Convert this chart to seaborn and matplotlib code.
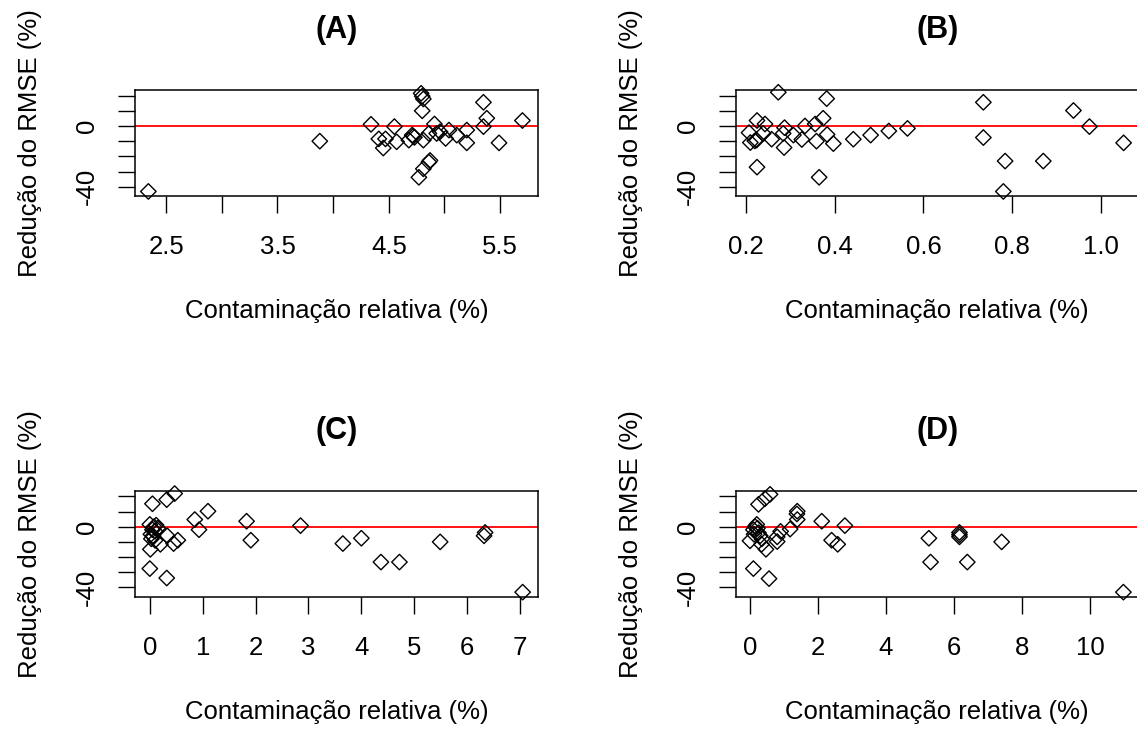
import numpy as np
import pandas as pd
import matplotlib
matplotlib.use("Agg")
import matplotlib.pyplot as plt
import seaborn as sns

# ── Data ──────────────────────────────────────────────────────────────────────

xa = [2.34, 3.88, 4.34, 4.41, 4.47, 4.45, 4.55, 4.57, 4.68, 4.72, 4.73, 4.71,
      4.79, 4.80, 4.81, 4.80, 4.81, 4.77, 4.81, 4.86, 4.87, 4.86, 4.91, 4.93,
      4.96, 5.01, 5.04, 5.11, 5.20, 5.20, 5.35, 5.35, 5.38, 5.49, 5.70]
ya = [-43.1, -10, 1.1, -8.5, -8.5, -14.5, -0.4, -10.4, -9.3, -6.7, -7.5, -6,
      21.5, 19.6, 17.8, 10, -9.3, -33.8, -28.2, -23.8, -22.7, -4.9, 1.3, -4.9,
      -3.8, -8.2, -2.7, -6, -2.7, -11.1, -0.4, 15.6, 5.1, -11.1, 3.6]

xb = [0.273, 0.382, 0.735, 0.938, 0.974, 1.051, 0.735, 0.784, 0.870, 0.780,
      0.564, 0.522, 0.481, 0.442, 0.397, 0.383, 0.374, 0.359, 0.365, 0.356,
      0.333, 0.326, 0.307, 0.287, 0.284, 0.286, 0.258, 0.243, 0.239, 0.225,
      0.224, 0.225, 0.207, 0.210, 0.220]
yb = [22.2, 18, 15.6, 10.2, -0.4, -11.1, -7.6, -23.1, -23.1, -43.1,
      -1.6, -3.3, -6, -8.7, -11.6, -5.6, 5.1, -10, -33.8, 1.3,
      0, -8.9, -6, -1.1, -4.9, -14.2, -8.7, 1.3, -4.9, 3.6,
      -9.3, -27.1, -4.4, -10.9, -9.8]

xc = [7.05, 6.34, 6.32, 5.49, 4.72, 4.37, 4.00, 3.65, 2.85, 1.91, 1.83, 1.10,
      0.93, 0.85, 0.47, 0.32, 0.05, 0.32, 0.00, 0.01, 0.20, 0.33, 0.45, 0.53,
      0.02, 0.05, 0.08, 0.10, 0.03, 0.12, 0.06, 0.00, 0.10, 0.15]
yc = [-43.1, -3.8, -6, -10, -23.3, -23.3, -7.6, -11.1, 0.7, -8.9, 3.6, 10.2,
      -2, 4.7, 21.8, 17.8, 15.1, -33.8, -27.6, -14.9, -11.6, -6, -11.1, -8.9,
      -5, -2, 0, -3, -8, 1, -6, 1.5, -9, -1]

xd = [10.98, 7.40, 6.39, 6.16, 6.16, 6.16, 5.31, 5.26, 2.79, 2.58, 2.40, 2.11,
      1.39, 1.39, 1.38, 1.18, 0.90, 0.80, 0.80, 0.59, 0.44, 0.25, 0.56, 0.10,
      0.47, 0.34, 0.00, 0.10, 0.15, 0.20, 0.25, 0.30, 0.35, 0.12, 0.22]
yd = [-43.1, -10, -23.3, -3.8, -5.3, -6.7, -23.3, -7.6, 0.7, -11.6, -8.9, 3.6,
      10.2, 4.7, 8.4, -1.6, -3.1, -6.7, -9.8, 21.3, 18.4, 14.7, -34.2, -27.6,
      -14.9, -11.6, -9.3, -2, 0, 1.5, -4, -6, -8, -5, -1]

TITLES = ["(A)", "(B)", "(C)", "(D)"]
XLABEL = "Contaminação relativa (%)"
YLABEL = "Redução do RMSE (%)"

Y_TICKS = [-40, -30, -20, -10, 0, 10, 20]
Y_TICKLABELS = ["-40", "", "", "", "0", "", ""]

X_TICKS = [
    [2.5, 3.0, 3.5, 4.0, 4.5, 5.0, 5.5],
    [0.2, 0.4, 0.6, 0.8, 1.0],
    [0, 1, 2, 3, 4, 5, 6, 7],
    [0, 2, 4, 6, 8, 10],
]
X_TICKLABELS = [
    ["2.5", "", "3.5", "", "4.5", "", "5.5"],
    ["0.2", "0.4", "0.6", "0.8", "1.0"],
    ["0", "1", "2", "3", "4", "5", "6", "7"],
    ["0", "2", "4", "6", "8", "10"],
]
X_LIMS = [(2.22, 5.84), (0.177, 1.085), (-0.28, 7.34), (-0.42, 11.43)]
Y_LIM = (-46.1, 23.7)

# ── Layout (pixels in a 1137x731 canvas) ──────────────────────────────────────

W, H = 1137, 731
AX_W, AX_H = 403, 106
LEFTS = [135, 735.7, 135, 735.7]
TOPS = [90, 90, 490.7, 490.7]

sns.set_style("white")
plt.rcParams["font.family"] = ["Liberation Sans", "DejaVu Sans"]

fig = plt.figure(figsize=(W / 100, H / 100), dpi=100)

panels = [(xa, ya), (xb, yb), (xc, yc), (xd, yd)]

for i, (xs, ys) in enumerate(panels):
    rect = [LEFTS[i] / W, (H - TOPS[i] - AX_H) / H, AX_W / W, AX_H / H]
    ax = fig.add_axes(rect)
    df = pd.DataFrame({"x": xs, "y": ys})

    ax.axhline(0, color="red", linewidth=1.3, zorder=1)
    sns.scatterplot(data=df, x="x", y="y", ax=ax, marker="D", s=62,
                    facecolor="none", edgecolor="black", linewidth=1.0,
                    zorder=2, clip_on=False)

    ax.set_xlim(*X_LIMS[i])
    ax.set_ylim(*Y_LIM)
    ax.set_xticks(X_TICKS[i], X_TICKLABELS[i])
    ax.set_yticks(Y_TICKS, Y_TICKLABELS)

    ax.tick_params(axis="both", direction="out", length=12, width=1.0,
                   color="black", labelsize=18.5, labelcolor="black",
                   bottom=True, left=True)
    ax.tick_params(axis="x", pad=16)
    ax.tick_params(axis="y", pad=14, labelrotation=90)
    for lab in ax.get_yticklabels():
        lab.set_verticalalignment("center")

    for spine in ax.spines.values():
        spine.set_visible(True)
        spine.set_color("black")
        spine.set_linewidth(1.1)

    ax.set_xlabel(XLABEL, fontsize=18.5, color="black")
    ax.set_ylabel(YLABEL, fontsize=18.5, color="black")
    ax.xaxis.set_label_coords(0.5, -0.97)
    ax.yaxis.set_label_coords(-0.23, 0.5)

    ax.text(0.5, 1.566, TITLES[i], transform=ax.transAxes, ha="center",
            va="center", fontsize=22, fontweight="bold", color="black")

fig.savefig("out.png", dpi=100, facecolor="white")
